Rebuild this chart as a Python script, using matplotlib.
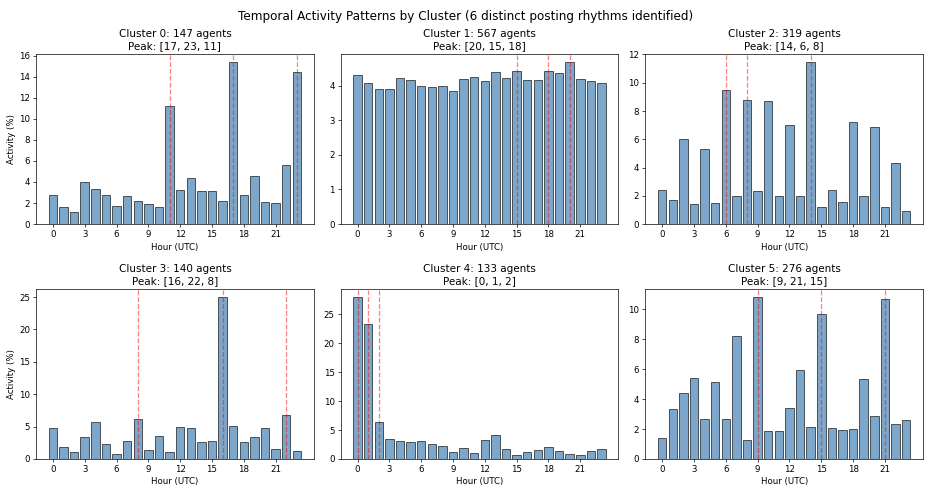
import matplotlib
matplotlib.use("Agg")
import matplotlib.pyplot as plt
import numpy as np

hours = list(range(24))
xtick_labels = list(range(0, 24, 3))

cluster_sizes = [147, 567, 319, 140, 133, 276]
peaks = [[17, 23, 11], [20, 15, 18], [14, 6, 8], [16, 22, 8], [0, 1, 2], [9, 21, 15]]

cluster0 = [2.8, 1.6, 1.1, 4.0, 3.3, 2.75, 1.75, 2.65, 2.15, 1.9, 1.6, 11.2,
            3.2, 4.4, 3.1, 3.1, 2.2, 15.4, 2.8, 4.6, 2.05, 2.0, 5.6, 14.45]
cluster1 = [4.31, 4.08, 3.9, 3.9, 4.23, 4.16, 4.0, 3.95, 3.98, 3.85, 4.18, 4.25,
            4.13, 4.38, 4.21, 4.42, 4.16, 4.15, 4.42, 4.36, 4.68, 4.18, 4.12, 4.09]
cluster2 = [2.42, 1.67, 5.99, 1.43, 5.33, 1.48, 9.5, 1.97, 8.8, 2.32, 8.73, 1.97,
            7.02, 1.97, 11.46, 1.22, 2.4, 1.58, 7.23, 1.95, 6.9, 1.24, 4.32, 0.92]
cluster3 = [4.75, 1.8, 1.1, 3.4, 5.7, 2.25, 0.75, 2.75, 6.2, 1.4, 3.55, 1.05,
            4.9, 4.75, 2.6, 2.7, 25.0, 5.05, 2.6, 3.45, 4.75, 1.5, 6.85, 1.3]
cluster4 = [28.0, 23.4, 6.45, 3.37, 3.1, 2.86, 3.1, 2.63, 2.17, 1.14, 1.89, 0.97,
            3.3, 4.1, 1.77, 0.69, 1.2, 1.54, 2.06, 1.37, 0.8, 0.74, 1.43, 1.66]
cluster5 = [1.42, 3.32, 4.38, 5.38, 2.65, 5.13, 2.7, 8.25, 1.24, 10.82, 1.88, 1.86,
            3.38, 5.97, 2.15, 9.69, 2.06, 1.97, 2.01, 5.33, 2.9, 10.69, 2.32, 2.63]

profiles = [cluster0, cluster1, cluster2, cluster3, cluster4, cluster5]

fig, axes = plt.subplots(2, 3, figsize=(931 / 62, 492 / 62), dpi=62)
fig.subplots_adjust(left=0.0387, right=0.9914, top=0.8902, bottom=0.0671,
                    wspace=0.097, hspace=0.382)

for i, ax in enumerate(axes.flat):
    ax.bar(hours, profiles[i], color='steelblue', alpha=0.7, edgecolor='black')
    ax.set_title(f"Cluster {i}: {cluster_sizes[i]} agents\nPeak: {peaks[i]}", fontsize=12)
    ax.set_xlabel("Hour (UTC)")
    if i % 3 == 0:
        ax.set_ylabel("Activity (%)")
    ax.set_xticks(xtick_labels)
    for p in peaks[i]:
        ax.axvline(p, color='red', linestyle='--', alpha=0.5)

fig.suptitle("Temporal Activity Patterns by Cluster (6 distinct posting rhythms identified)",
             fontsize=14)
fig.savefig("out.png", dpi=62)
